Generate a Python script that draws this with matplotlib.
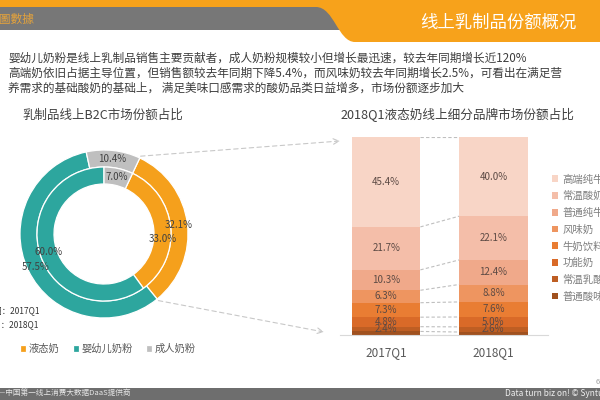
import numpy as np
import matplotlib
matplotlib.use("Agg")
import matplotlib.pyplot as plt
from matplotlib.patches import Rectangle, PathPatch
from matplotlib.path import Path

plt.rcParams['font.family'] = ['Noto Sans CJK SC', 'DejaVu Sans']

# ---------------- data ----------------
donut_cats = ['液态奶', '婴幼儿奶粉', '成人奶粉']
share_2017 = [33.0, 60.0, 7.0]     # inner ring
share_2018 = [32.1, 57.5, 10.4]    # outer ring
ring_names = ['内圈：2017Q1', '外圈：2018Q1']

bar_periods = ['2017Q1', '2018Q1']
seg_names = ['高端纯牛奶', '常温酸奶', '普通纯牛奶', '风味奶', '牛奶饮料', '功能奶', '常温乳酸菌', '普通酸味奶']
seg_2017 = [45.4, 21.7, 10.3, 6.3, 7.3, 4.8, 2.4, 1.8]
seg_2018 = [40.0, 22.1, 12.4, 8.8, 7.6, 5.0, 2.6, 1.5]

header_title = '线上乳制品份额概况'
brand = '星圖數據'
body_lines = [
    '婴幼儿奶粉是线上乳制品销售主要贡献者，成人奶粉规模较小但增长最迅速，较去年同期增长近120%',
    '高端奶依旧占据主导位置，但销售额较去年同期下降5.4%，而风味奶较去年同期增长2.5%，可看出在满足营',
    '养需求的基础酸奶的基础上， 满足美味口感需求的酸奶品类日益增多，市场份额逐步加大',
]
left_title = '乳制品线上B2C市场份额占比'
right_title = '2018Q1液态奶线上细分品牌市场份额占比'
footer_left = '星图数据——中国第一线上消费大数据DaaS提供商'
footer_right = 'Data turn biz on! © Syntun'

# ---------------- styles ----------------
donut_colors = ['#F5A01C', '#2DA69E', '#BFBFBF']
seg_colors = ['#F8D5C6', '#F4BEA9', '#F0A98A', '#EE9560', '#E97D33', '#D96A28', '#BE5E23', '#A0511F']

W, H = 600, 400
fig = plt.figure(figsize=(6, 4), dpi=100)
fig.patch.set_facecolor('white')

# background / annotation axes in pixel coordinates
bg = fig.add_axes([0, 0, 1, 1], zorder=0)
bg.set_xlim(0, W)
bg.set_ylim(H, 0)
bg.axis('off')

# header
bg.add_patch(Rectangle((0, 0), W, 8, color='#F7A21B', lw=0))
bg.add_patch(Rectangle((0, 7), 345, 23, color='#777777', lw=0))
verts = [(0, 0), (W, 0), (W, 42), (355, 42),
         (338, 42), (334, 7), (316, 7),
         (300, 7), (300, 0), (0, 0)]
codes = [Path.MOVETO, Path.LINETO, Path.LINETO, Path.LINETO,
         Path.CURVE4, Path.CURVE4, Path.CURVE4,
         Path.LINETO, Path.LINETO, Path.CLOSEPOLY]
bg.add_patch(PathPatch(Path(verts, codes), facecolor='#F7A21B', lw=0))
bg.text(498, 23, header_title, color='white', fontsize=12.5, ha='center', va='center')
bg.text(-13, 19, brand, color='#E3A23C', fontsize=8.5, ha='left', va='center')

# body text
for i, line in enumerate(body_lines):
    bg.text(8, 58 + 15 * i, line, fontsize=8.4, color='#3C3C3C', ha='left', va='center')

bg.text(22, 115, left_title, fontsize=9, color='#404040', ha='left', va='center')
bg.text(457, 115, right_title, fontsize=9.1, color='#404040', ha='center', va='center')

# footer
bg.add_patch(Rectangle((0, 388), W, 12, color='#6E6E6E', lw=0))
bg.text(131, 394, footer_left, fontsize=5.5, color='#E6E6E6', ha='right', va='center')
bg.text(505, 394, footer_right, fontsize=6, color='#F0F0F0', ha='left', va='center')
bg.text(596, 382, '6', fontsize=5.5, color='#A0A0A0', ha='left', va='center')

# ring notes
for i, t in enumerate(ring_names):
    bg.text(-15, 311 + 14 * i, t, fontsize=6, color='#333333', ha='left', va='center')

# ---------------- donut ----------------
cx, cy, R = 104, 234, 84
dax = fig.add_axes([(cx - R) / W, (H - cy - R) / H, 2 * R / W, 2 * R / H], zorder=2)
start = 90 - 25.2
r_mid, r_hole = 67 / R, 50 / R
w_out = 1 - r_mid
w_in = r_mid - r_hole
fmt = lambda p: f'{p:.1f}%'
outer, _, out_txt = dax.pie(share_2018, radius=1, colors=donut_colors, startangle=start,
                            counterclock=False, autopct=fmt, pctdistance=1 - w_out / 2,
                            wedgeprops=dict(width=w_out, edgecolor='white', linewidth=0.9),
                            textprops=dict(fontsize=7, color='#404040'))
inner, _, in_txt = dax.pie(share_2017, radius=r_mid, colors=donut_colors, startangle=start,
                           counterclock=False, autopct=fmt,
                           pctdistance=(r_mid - w_in / 2) / r_mid,
                           wedgeprops=dict(width=w_in, edgecolor='white', linewidth=0.9),
                           textprops=dict(fontsize=7, color='#404040'))
# nudge the inner 液态奶 label slightly downward, as in the original layout
px, py = in_txt[0].get_position()
in_txt[0].set_position((px, py - 0.13))
dax.set_xlim(-1, 1)
dax.set_ylim(-1, 1)
dax.set_aspect('equal')

fig.legend(handles=outer, labels=donut_cats, ncol=3, loc='center left',
           bbox_to_anchor=(15 / W, 1 - 349 / H), frameon=False, fontsize=7.4,
           labelcolor='#595959', handlelength=0.55, handleheight=0.55,
           handletextpad=0.3, columnspacing=1.3, borderpad=0)

# ---------------- stacked bars ----------------
bx0, bx1, by0, by1 = 340, 548, 335, 137
bax = fig.add_axes([bx0 / W, (H - by0) / H, (bx1 - bx0) / W, (by0 - by1) / H], zorder=2)
x = np.arange(len(bar_periods))
bw = 0.64
vals = np.array([seg_2017, seg_2018])  # shape (2, nseg)
handles = [None] * len(seg_names)
bottom = np.zeros(len(bar_periods))
cums = [bottom.copy()]
for k in reversed(range(len(seg_names))):
    v = vals[:, k]
    h = bax.bar(x, v, bw, bottom=bottom, color=seg_colors[k], label=seg_names[k], lw=0)
    handles[k] = h
    if k < len(seg_names) - 1:
        for xi, vi, bi in zip(x, v, bottom):
            bax.text(xi, bi + vi / 2, f'{vi:.1f}%', ha='center', va='center',
                     fontsize=7, color='#5C4A44')
    bottom = bottom + v
    cums.append(bottom.copy())
for c in cums:
    bax.plot([x[0] + bw / 2, x[1] - bw / 2], [c[0], c[1]], ls=(0, (3, 2)),
             color='#BFBFBF', lw=0.8)
bax.set_xlim(-0.43, 1.51)
bax.set_ylim(0, 100)
bax.set_xticks(x)
bax.set_xticklabels(bar_periods, fontsize=8.5, color='#595959')
bax.tick_params(axis='x', length=0, pad=8)
bax.set_yticks([])
for s in ['top', 'right', 'left']:
    bax.spines[s].set_visible(False)
bax.spines['bottom'].set_color('#D9D9D9')
bax.spines['bottom'].set_linewidth(0.8)

fig.legend(handles=handles, labels=seg_names, loc='upper left',
           bbox_to_anchor=(547 / W, 1 - 169 / H), frameon=False, fontsize=7.5,
           labelcolor='#7F7F7F', handlelength=0.6, handleheight=0.6,
           handletextpad=0.35, labelspacing=0.63, borderpad=0)

# ---------------- connector lines donut -> bars ----------------
w0 = outer[0]
for ang, end in [(w0.theta2, (340, 141)), (w0.theta1, (324, 332))]:
    a = np.deg2rad(ang)
    p = (cx + (R + 2) * np.cos(a), cy - (R + 2) * np.sin(a))
    bg.annotate('', xy=end, xytext=p,
                arrowprops=dict(arrowstyle='->', color='#C8C8C8', lw=0.8,
                                linestyle=(0, (4, 3)), shrinkA=0, shrinkB=0))

fig.savefig('out.png', dpi=100)
